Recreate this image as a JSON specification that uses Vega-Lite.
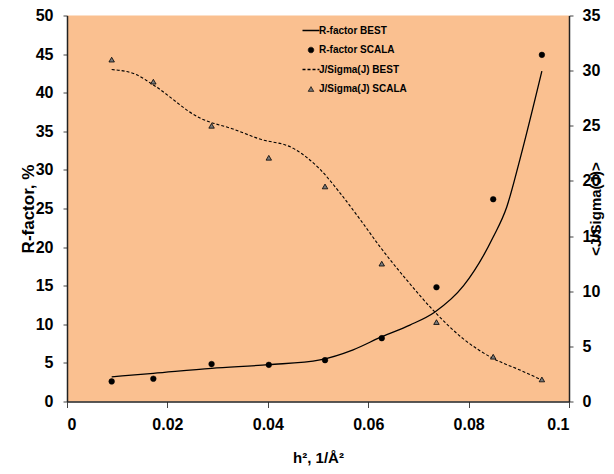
{
  "$schema": "https://vega.github.io/schema/vega-lite/v6.json",
  "width": 502,
  "height": 386,
  "autosize": {"type": "none"},
  "padding": {"left": 67, "top": 15.5, "right": 45, "bottom": 72.5},
  "background": "white",
  "config": {
    "view": {"fill": "#FAC090", "stroke": null},
    "font": "Liberation Sans",
    "axis": {
      "grid": false,
      "domainColor": "#222222",
      "domainWidth": 1.5,
      "tickColor": "#444444",
      "tickWidth": 1,
      "labelFont": "Liberation Sans",
      "labelFontWeight": "bold",
      "labelColor": "black",
      "titleColor": "black",
      "titleFont": "Liberation Sans",
      "titleFontWeight": "bold"
    }
  },
  "data": {
    "values": [
      {"series": "R-factor BEST", "h2": 0.0089, "value": 3.2},
      {"series": "R-factor BEST", "h2": 0.0172, "value": 3.65},
      {"series": "R-factor BEST", "h2": 0.0288, "value": 4.3},
      {"series": "R-factor BEST", "h2": 0.0402, "value": 4.77},
      {"series": "R-factor BEST", "h2": 0.0504, "value": 5.4},
      {"series": "R-factor BEST", "h2": 0.057, "value": 6.7},
      {"series": "R-factor BEST", "h2": 0.0627, "value": 8.4},
      {"series": "R-factor BEST", "h2": 0.0683, "value": 9.9},
      {"series": "R-factor BEST", "h2": 0.0733, "value": 11.6},
      {"series": "R-factor BEST", "h2": 0.079, "value": 15.0},
      {"series": "R-factor BEST", "h2": 0.0849, "value": 21.3},
      {"series": "R-factor BEST", "h2": 0.0876, "value": 25.2},
      {"series": "R-factor BEST", "h2": 0.0902, "value": 31.3},
      {"series": "R-factor BEST", "h2": 0.0946, "value": 42.8},

      {"series": "R-factor SCALA", "h2": 0.0089, "value": 2.6},
      {"series": "R-factor SCALA", "h2": 0.0172, "value": 2.95},
      {"series": "R-factor SCALA", "h2": 0.0288, "value": 4.85},
      {"series": "R-factor SCALA", "h2": 0.0402, "value": 4.75},
      {"series": "R-factor SCALA", "h2": 0.0514, "value": 5.35},
      {"series": "R-factor SCALA", "h2": 0.0627, "value": 8.2},
      {"series": "R-factor SCALA", "h2": 0.0736, "value": 14.8},
      {"series": "R-factor SCALA", "h2": 0.0849, "value": 26.2},
      {"series": "R-factor SCALA", "h2": 0.0946, "value": 44.9},

      {"series": "J/Sigma(J) BEST", "h2": 0.0089, "value": 30.1},
      {"series": "J/Sigma(J) BEST", "h2": 0.0135, "value": 29.7},
      {"series": "J/Sigma(J) BEST", "h2": 0.0172, "value": 28.7},
      {"series": "J/Sigma(J) BEST", "h2": 0.0265, "value": 25.7},
      {"series": "J/Sigma(J) BEST", "h2": 0.0331, "value": 24.7},
      {"series": "J/Sigma(J) BEST", "h2": 0.0384, "value": 23.8},
      {"series": "J/Sigma(J) BEST", "h2": 0.0451, "value": 22.95},
      {"series": "J/Sigma(J) BEST", "h2": 0.0504, "value": 21.05},
      {"series": "J/Sigma(J) BEST", "h2": 0.0544, "value": 18.9},
      {"series": "J/Sigma(J) BEST", "h2": 0.0584, "value": 16.5},
      {"series": "J/Sigma(J) BEST", "h2": 0.0624, "value": 14.0},
      {"series": "J/Sigma(J) BEST", "h2": 0.0677, "value": 11.0},
      {"series": "J/Sigma(J) BEST", "h2": 0.0733, "value": 8.1},
      {"series": "J/Sigma(J) BEST", "h2": 0.0789, "value": 5.7},
      {"series": "J/Sigma(J) BEST", "h2": 0.0849, "value": 3.9},
      {"series": "J/Sigma(J) BEST", "h2": 0.0902, "value": 2.86},
      {"series": "J/Sigma(J) BEST", "h2": 0.0946, "value": 1.95},

      {"series": "J/Sigma(J) SCALA", "h2": 0.0089, "value": 31.0},
      {"series": "J/Sigma(J) SCALA", "h2": 0.0172, "value": 29.0},
      {"series": "J/Sigma(J) SCALA", "h2": 0.0288, "value": 25.0},
      {"series": "J/Sigma(J) SCALA", "h2": 0.0402, "value": 22.1},
      {"series": "J/Sigma(J) SCALA", "h2": 0.0514, "value": 19.5},
      {"series": "J/Sigma(J) SCALA", "h2": 0.0627, "value": 12.5},
      {"series": "J/Sigma(J) SCALA", "h2": 0.0736, "value": 7.2},
      {"series": "J/Sigma(J) SCALA", "h2": 0.0849, "value": 4.06},
      {"series": "J/Sigma(J) SCALA", "h2": 0.0946, "value": 2.0}
    ]
  },
  "encoding": {
    "x": {
      "field": "h2",
      "type": "quantitative",
      "scale": {"domain": [0, 0.1], "nice": false, "zero": true},
      "axis": {
        "values": [0, 0.02, 0.04, 0.06, 0.08, 0.1],
        "format": "~g",
        "title": "h², 1/Å²",
        "titleFontSize": 15,
        "titlePadding": 18,
        "labelFontSize": 16,
        "labelPadding": 9,
        "tickSize": 6
      }
    }
  },
  "layer": [
    {
      "encoding": {
        "y": {
          "field": "value",
          "type": "quantitative",
          "scale": {"domain": [0, 50], "nice": false},
          "axis": {
            "orient": "left",
            "values": [0, 5, 10, 15, 20, 25, 30, 35, 40, 45, 50],
            "title": "R-factor, %",
            "titleFontSize": 17,
            "titlePadding": -2,
            "labelFontSize": 16,
            "labelPadding": 10,
            "tickSize": 4
          }
        }
      },
      "layer": [
        {
          "transform": [{"filter": "datum.series === 'R-factor BEST'"}],
          "mark": {"type": "line", "color": "black", "strokeWidth": 1.3, "interpolate": "monotone"},
          "encoding": {}
        },
        {
          "transform": [{"filter": "datum.series === 'R-factor SCALA'"}],
          "mark": {"type": "point", "shape": "circle", "filled": true, "size": 32, "stroke": "black", "strokeWidth": 0.5, "opacity": 1},
          "encoding": {
            "color": {
              "field": "series",
              "type": "nominal",
              "scale": {
                "domain": ["R-factor BEST", "R-factor SCALA", "J/Sigma(J) BEST", "J/Sigma(J) SCALA"],
                "range": ["black", "black", "black", "#7a7a7a"]
              },
              "legend": {
                "orient": "none",
                "legendX": 239,
                "legendY": 10,
                "title": null,
                "padding": 0,
                "symbolSize": 289,
                "labelOffset": 3,
                "rowPadding": 9.5,
                "labelFontWeight": "bold",
                "labelFontSize": 10,
                "labelColor": "black",
                "symbolOpacity": 1,
                "encoding": {
                  "symbols": {
                    "shape": {"value": {"expr": "datum.value === 'R-factor SCALA' ? 'circle' : (datum.value === 'J/Sigma(J) SCALA' ? 'triangle-up' : 'stroke')"}},
                    "size": {"value": {"expr": "datum.value === 'R-factor SCALA' ? 32 : (datum.value === 'J/Sigma(J) SCALA' ? 30 : 289)"}},
                    "fill": {"value": {"expr": "datum.value === 'R-factor SCALA' ? 'black' : (datum.value === 'J/Sigma(J) SCALA' ? '#7a7a7a' : 'transparent')"}},
                    "stroke": {"value": "black"},
                    "strokeWidth": {"value": {"expr": "datum.value === 'J/Sigma(J) SCALA' ? 0.8 : (datum.value === 'R-factor SCALA' ? 0.5 : 1.3)"}},
                    "strokeDash": {"value": {"expr": "datum.value === 'J/Sigma(J) BEST' ? [3, 2] : [1, 0]"}},
                    "opacity": {"value": 1}
                  }
                }
              }
            }
          }
        }
      ]
    },
    {
      "encoding": {
        "y": {
          "field": "value",
          "type": "quantitative",
          "scale": {"domain": [0, 35], "nice": false},
          "axis": {
            "orient": "right",
            "values": [0, 5, 10, 15, 20, 25, 30, 35],
            "title": "<J/Sigma(J)>",
            "titleFontSize": 15,
            "titleAngle": -90,
            "titlePadding": 4,
            "labelFontSize": 16,
            "labelPadding": 9,
            "tickSize": 4
          }
        }
      },
      "layer": [
        {
          "transform": [{"filter": "datum.series === 'J/Sigma(J) BEST'"}],
          "mark": {"type": "line", "color": "black", "strokeWidth": 1.1, "strokeDash": [3, 2], "interpolate": "monotone"},
          "encoding": {}
        },
        {
          "transform": [{"filter": "datum.series === 'J/Sigma(J) SCALA'"}],
          "mark": {"type": "point", "shape": "triangle-up", "filled": true, "size": 30, "fill": "#7a7a7a", "stroke": "black", "strokeWidth": 0.8, "opacity": 1},
          "encoding": {}
        }
      ]
    }
  ],
  "resolve": {"scale": {"y": "independent"}}
}
